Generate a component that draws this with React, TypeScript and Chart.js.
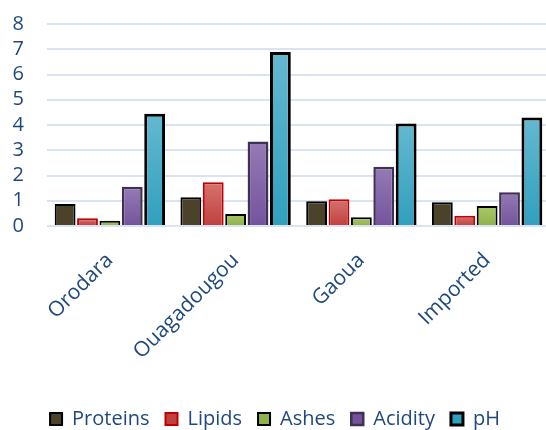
import React, { useEffect, useRef } from "react";
import { Chart, registerables } from "chart.js";

Chart.register(...registerables);

const categories = ["Orodara", "Ouagadougou", "Gaoua", "Imported"];
const proteins = [0.87, 1.14, 0.98, 0.94];
const lipids = [0.31, 1.73, 1.06, 0.41];
const ashes = [0.21, 0.48, 0.35, 0.79];
const acidity = [1.55, 3.35, 2.35, 1.34];
const ph = [4.45, 6.89, 4.06, 4.3];
const yTicks = [0, 1, 2, 3, 4, 5, 6, 7, 8];

const TEXT = "#1f497d";
const FONT = "'Open Sans', sans-serif";

function barGradient(top: string, bottom: string) {
  return (ctx: any) => {
    const chart = ctx.chart;
    const y = chart.scales && chart.scales.y;
    if (!y || ctx.type !== "data") return bottom;
    const v = ctx.raw as number;
    const y0 = y.getPixelForValue(0);
    const y1 = y.getPixelForValue(v);
    if (!isFinite(y0) || !isFinite(y1) || y0 === y1) return bottom;
    const g = chart.ctx.createLinearGradient(0, y1, 0, y0);
    g.addColorStop(0, top);
    g.addColorStop(1, bottom);
    return g;
  };
}

export default function App() {
  const ref = useRef<HTMLCanvasElement | null>(null);

  useEffect(() => {
    document.body.style.margin = "0";
    document.body.style.overflow = "hidden";
    const canvas = ref.current;
    if (!canvas) return;
    const chart = new Chart(canvas, {
      type: "bar",
      data: {
        labels: categories,
        datasets: [
          {
            label: "Proteins",
            data: proteins,
            backgroundColor: "#4a4229",
            borderColor: "#000000",
            borderWidth: 2,
          },
          {
            label: "Lipids",
            data: lipids,
            backgroundColor: barGradient("#d67270", "#c0403c"),
            borderColor: "#c00000",
            borderWidth: 2,
          },
          {
            label: "Ashes",
            data: ashes,
            backgroundColor: barGradient("#a9c86a", "#8fb24a"),
            borderColor: "#000000",
            borderWidth: 2,
          },
          {
            label: "Acidity",
            data: acidity,
            backgroundColor: barGradient("#957bb5", "#74539c"),
            borderColor: "#3f3151",
            borderWidth: 2.5,
          },
          {
            label: "pH",
            data: ph,
            backgroundColor: barGradient("#64b8d0", "#30a0be"),
            borderColor: "#000000",
            borderWidth: 3,
          },
        ],
      },
      options: {
        animation: false,
        responsive: false,
        layout: { padding: { left: 0, top: 24, right: 2, bottom: 0 } },
        datasets: {
          bar: { barPercentage: 0.93, categoryPercentage: 0.89 },
        },
        plugins: {
          tooltip: { enabled: false },
          legend: {
            position: "bottom",
            labels: {
              color: TEXT,
              font: { family: FONT, size: 20 },
              boxWidth: 12,
              boxHeight: 12,
              padding: 16,
            },
          },
        },
        scales: {
          x: {
            grid: { display: false, drawTicks: false },
            border: { display: false },
            ticks: {
              color: TEXT,
              font: { family: FONT, size: 21 },
              maxRotation: 45,
              minRotation: 45,
              autoSkip: false,
              padding: 22,
            },
            afterFit: (scale: any) => {
              scale.height = 167;
              scale.paddingLeft = 0;
              scale.paddingRight = 0;
            },
          },
          y: {
            min: 0,
            max: 8,
            afterBuildTicks: (scale: any) => {
              scale.ticks = yTicks.map((v) => ({ value: v }));
            },
            afterFit: (scale: any) => {
              scale.width = 47;
              scale.paddingTop = 0;
              scale.paddingBottom = 0;
            },
            grid: { color: "#d9e3f1", lineWidth: 2, drawTicks: false },
            border: { display: false },
            ticks: {
              color: TEXT,
              font: { family: FONT, size: 20 },
              autoSkip: false,
              padding: 23,
            },
          },
        },
      },
    });
    return () => chart.destroy();
  }, []);

  return (
    <div style={{ position: "fixed", left: 0, top: 0, width: 546, height: 430, overflow: "hidden" }}>
      <canvas ref={ref} width={552} height={439} style={{ display: "block", width: 552, height: 439 }} />
    </div>
  );
}
